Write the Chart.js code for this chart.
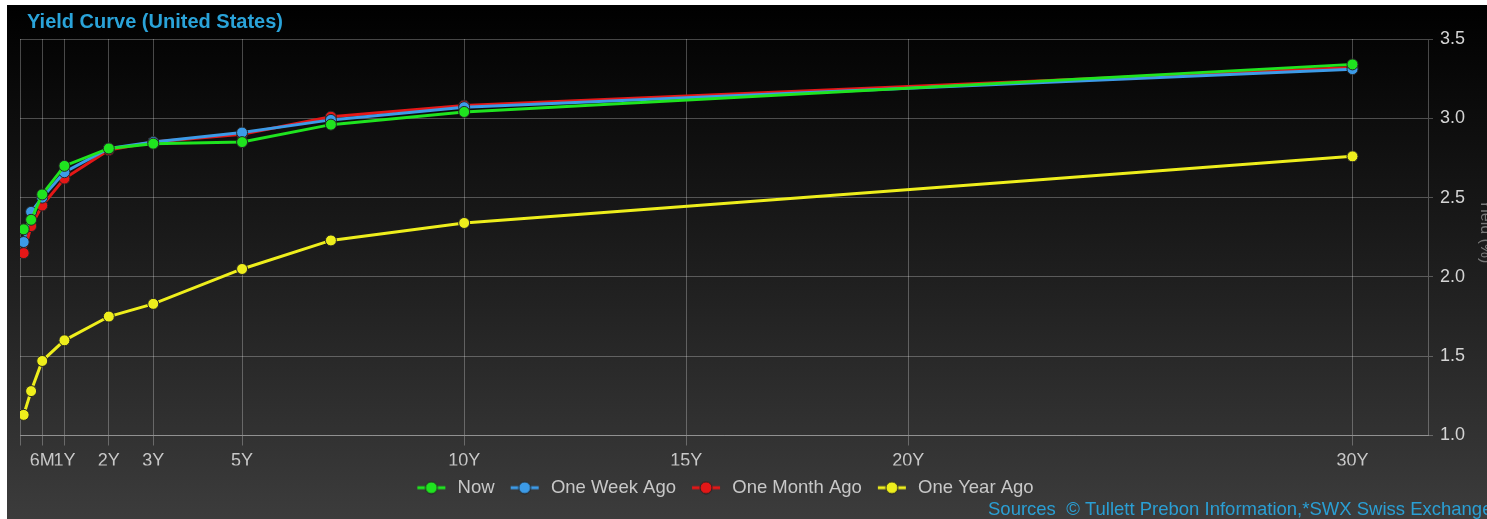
<!DOCTYPE html>
<html>
<head>
<meta charset="utf-8">
<title>Yield Curve (United States)</title>
<script src="https://cdn.jsdelivr.net/npm/chart.js@4.4.1/dist/chart.umd.min.js"></script>
<style>
  html, body { margin: 0; padding: 0; background: #fff; overflow: hidden; }
  #wrap {
    position: absolute; left: 7px; top: 5px; width: 1480px; height: 514px;
    background: linear-gradient(to bottom, #000 0%, #1d1d1d 50%, #3c3c3c 100%);
  }
  canvas { display: block; }
</style>
</head>
<body>
<div id="wrap"><canvas id="yield-chart" width="1480" height="514"></canvas></div>
<script>
  // maturities in years: 1M, 3M, 6M, 1Y, 2Y, 3Y, 5Y, 7Y, 10Y, 30Y
  const tenors = [0.083, 0.25, 0.5, 1, 2, 3, 5, 7, 10, 30];
  const nowYields = [2.30, 2.36, 2.52, 2.70, 2.81, 2.84, 2.85, 2.96, 3.04, 3.34];
  const weekAgoYields = [2.22, 2.41, 2.50, 2.66, 2.81, 2.85, 2.91, 2.99, 3.07, 3.31];
  const monthAgoYields = [2.15, 2.32, 2.45, 2.62, 2.80, 2.85, 2.90, 3.01, 3.08, 3.32];
  const yearAgoYields = [1.13, 1.28, 1.47, 1.60, 1.75, 1.83, 2.05, 2.23, 2.34, 2.76];

  const tickValues = [0, 0.5, 1, 2, 3, 5, 10, 15, 20, 30];
  const tickLabels = ['', '6M', '1Y', '2Y', '3Y', '5Y', '10Y', '15Y', '20Y', '30Y'];

  const seriesNames = ['Now', 'One Week Ago', 'One Month Ago', 'One Year Ago'];
  const seriesColors = ['#1fe41f', '#3c9be8', '#e41717', '#eeee1c'];
  const seriesValues = [nowYields, weekAgoYields, monthAgoYields, yearAgoYields];

  const FONT = '"Liberation Sans", Arial, sans-serif';
  const gridColor = 'rgba(255,255,255,0.27)';

  // little "-o-" swatch used in the legend
  function legendIcon(color) {
    const cv = document.createElement('canvas');
    cv.width = 34;
    cv.height = 14;
    const c = cv.getContext('2d');
    c.strokeStyle = color;
    c.lineWidth = 3;
    c.beginPath();
    c.moveTo(3, 7);
    c.lineTo(31, 7);
    c.stroke();
    c.beginPath();
    c.arc(17, 7, 6, 0, Math.PI * 2);
    c.fillStyle = color;
    c.fill();
    c.lineWidth = 1;
    c.strokeStyle = '#222';
    c.stroke();
    return cv;
  }

  const extraText = {
    id: 'extraText',
    afterDraw(chart) {
      const c = chart.ctx;
      c.save();
      c.textBaseline = 'middle';
      c.textAlign = 'left';
      c.fillStyle = '#2aa3d9';
      c.font = 'bold 20px ' + FONT;
      c.fillText('Yield Curve (United States)', 20, 17);

      c.font = '18.5px ' + FONT;
      c.fillStyle = '#2a9fd4';
      c.fillText('Sources  \u00a9 Tullett Prebon Information,*SWX Swiss Exchange', 981, 505);

      // axis title, cut off by the right edge
      const yScale = chart.scales.y;
      c.translate(1474, (yScale.top + yScale.bottom) / 2 - 6);
      c.rotate(Math.PI / 2);
      c.textAlign = 'center';
      c.textBaseline = 'alphabetic';
      c.fillStyle = '#777';
      c.font = '16px ' + FONT;
      c.fillText('Yield (%)', 0, 0);
      c.restore();
    }
  };

  const datasets = seriesNames.map((name, i) => ({
    label: name,
    data: tenors.map((t, j) => ({ x: t, y: seriesValues[i][j] })),
    borderColor: seriesColors[i],
    backgroundColor: seriesColors[i],
    borderWidth: 3,
    pointRadius: 5.5,
    pointBorderWidth: 1,
    pointBorderColor: '#262626',
    pointBackgroundColor: seriesColors[i],
    tension: 0
  }));

  const ctx = document.getElementById('yield-chart').getContext('2d');
  new Chart(ctx, {
    type: 'line',
    data: { datasets },
    plugins: [extraText],
    options: {
      responsive: false,
      animation: false,
      events: [],
      layout: { padding: { left: 13, top: 34, right: 0, bottom: 12 } },
      plugins: {
        title: { display: false },
        tooltip: { enabled: false },
        legend: {
          position: 'bottom',
          fullSize: false,
          labels: {
            usePointStyle: true,
            pointStyleWidth: 34,
            boxHeight: 14,
            padding: 13,
            color: '#c8c8c8',
            font: { size: 18.5, family: FONT },
            generateLabels(chart) {
              const items = Chart.defaults.plugins.legend.labels.generateLabels(chart);
              items.forEach((item, i) => { item.pointStyle = legendIcon(seriesColors[i]); });
              return items;
            }
          }
        }
      },
      scales: {
        x: {
          type: 'linear',
          min: 0,
          max: 31.7,
          afterBuildTicks(scale) {
            scale.ticks = tickValues.map(v => ({ value: v }));
          },
          afterFit(scale) { scale.height = 30; },
          grid: { color: gridColor, tickLength: 10, drawTicks: true },
          border: { color: gridColor },
          ticks: {
            autoSkip: false,
            maxRotation: 0,
            padding: 5,
            color: '#c8c8c8',
            font: { size: 18, family: FONT },
            callback: (v) => {
              const k = tickValues.indexOf(v);
              return k >= 0 ? tickLabels[k] : '';
            }
          }
        },
        y: {
          position: 'right',
          min: 1,
          max: 3.5,
          afterFit(scale) { scale.width = 59; },
          grid: { color: gridColor, tickLength: 5, drawTicks: true },
          border: { color: gridColor },
          ticks: {
            stepSize: 0.5,
            padding: 7,
            color: '#d4d4d4',
            font: { size: 18, family: FONT },
            callback: v => v.toFixed(1)
          }
        }
      }
    }
  });
</script>
</body>
</html>
